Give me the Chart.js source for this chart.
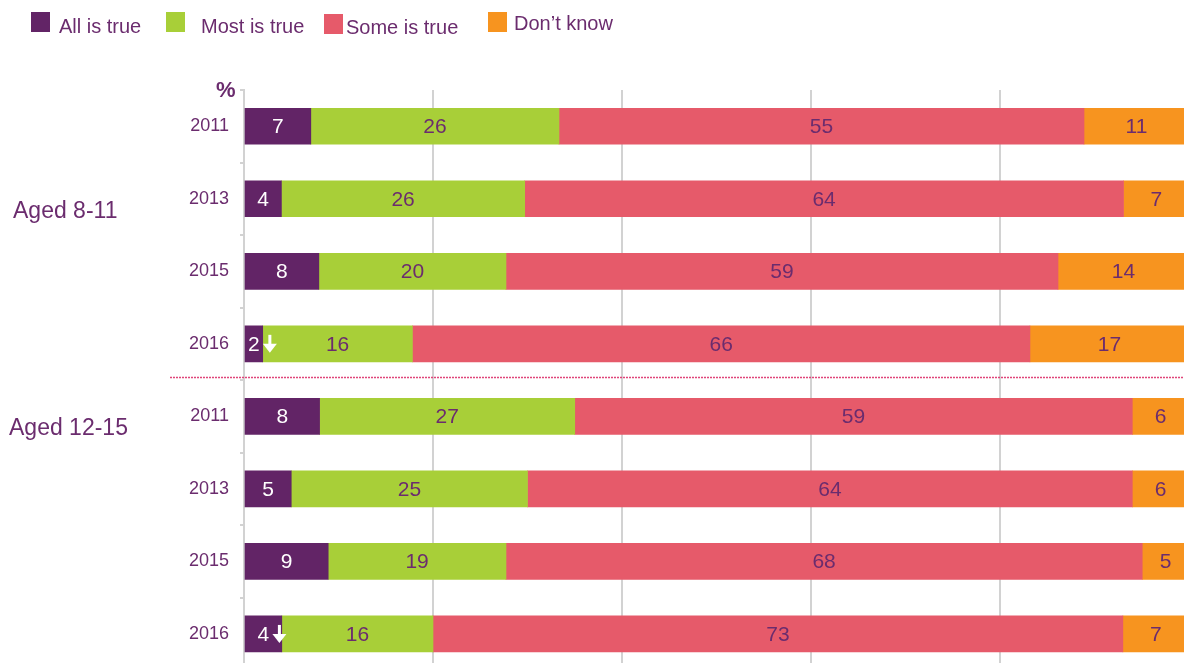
<!DOCTYPE html>
<html>
<head>
<meta charset="utf-8">
<script src="https://cdn.jsdelivr.net/npm/chart.js"></script>
<style>
  html, body { margin: 0; padding: 0; background: #fff; overflow: hidden; }
  #frame { position: relative; width: 1184px; height: 663px; overflow: hidden; font-family: "Liberation Sans", Arial, sans-serif; color: #6b2c6e; }
  #c { position: absolute; left: 0; top: 0; }
  .sw { position: absolute; width: 19px; height: 20px; }
  .lt { position: absolute; font-size: 20px; line-height: 1; white-space: nowrap; }
  .grp { position: absolute; font-size: 23px; line-height: 1; white-space: nowrap; }
  #pct { position: absolute; left: 216px; top: 79px; font-size: 22px; font-weight: bold; line-height: 1; }
</style>
</head>
<body>
<div id="frame">
  <canvas id="c" width="1189" height="692"></canvas>
  <div class="sw" style="left:31px;top:12px;background:#622466"></div>
  <div class="lt" style="left:59px;top:16px">All is true</div>
  <div class="sw" style="left:166px;top:12px;background:#a8cf38"></div>
  <div class="lt" style="left:201px;top:16px">Most is true</div>
  <div class="sw" style="left:324px;top:14px;background:#e65a6a"></div>
  <div class="lt" style="left:346px;top:17px">Some is true</div>
  <div class="sw" style="left:488px;top:12px;background:#f7941f"></div>
  <div class="lt" style="left:514px;top:13px">Don’t know</div>
  <div id="pct">%</div>
  <div class="grp" style="left:13px;top:199px">Aged 8-11</div>
  <div class="grp" style="left:9px;top:416px">Aged 12-15</div>
</div>
<script>
  // rows: years within two age groups
  const years = ['2011', '2013', '2015', '2016', '2011', '2013', '2015', '2016'];
  const allTrue = [7, 4, 8, 2, 8, 5, 9, 4];
  const mostTrue = [26, 26, 20, 16, 27, 25, 19, 16];
  const someTrue = [55, 64, 59, 66, 59, 64, 68, 73];
  const dontKnow = [11, 7, 14, 17, 6, 6, 5, 7];
  const xTicks = [0, 20, 40, 60, 80, 100];
  // rows with a significant-decrease arrow on "All is true"
  const arrowRows = [3, 7];

  const textPurple = '#6b2c6e';
  const series = [
    { label: 'All is true', values: allTrue, color: '#622466', text: '#fff' },
    { label: 'Most is true', values: mostTrue, color: '#a8cf38', text: textPurple },
    { label: 'Some is true', values: someTrue, color: '#e65a6a', text: textPurple },
    { label: 'Don’t know', values: dontKnow, color: '#f7941f', text: textPurple }
  ];

  // bars are drawn as share of the row total (100% stacked)
  const rowTotals = years.map((y, i) => series.reduce((s, d) => s + d.values[i], 0));

  const labelPlugin = {
    id: 'labels',
    afterDatasetsDraw(chart) {
      const ctx = chart.ctx;
      ctx.save();
      ctx.font = '21px "Liberation Sans", Arial, sans-serif';
      ctx.textAlign = 'center';
      ctx.textBaseline = 'middle';
      chart.data.datasets.forEach((ds, di) => {
        const meta = chart.getDatasetMeta(di);
        meta.data.forEach((bar, i) => {
          const cx = (bar.x + bar.base) / 2;
          ctx.fillStyle = series[di].text;
          ctx.fillText(String(series[di].values[i]), cx, bar.y + 1);
          if (di === 0 && arrowRows.includes(i)) {
            const ax = cx + 16, cy = bar.y;
            ctx.fillStyle = '#fff';
            ctx.fillRect(ax - 1.5, cy - 9, 3, 11);
            ctx.beginPath();
            ctx.moveTo(ax - 7, cy);
            ctx.lineTo(ax + 7, cy);
            ctx.lineTo(ax, cy + 9);
            ctx.closePath();
            ctx.fill();
          }
        });
      });
      // dotted separator between the two age groups
      const ys = chart.scales.y;
      const sepY = Math.round((ys.getPixelForValue(3) + ys.getPixelForValue(4)) / 2) - 2.5;
      ctx.strokeStyle = '#e0457a';
      ctx.lineWidth = 1.5;
      ctx.setLineDash([2, 1]);
      ctx.beginPath();
      ctx.moveTo(170, sepY);
      ctx.lineTo(chart.width, sepY);
      ctx.stroke();
      ctx.restore();
    }
  };

  new Chart(document.getElementById('c'), {
    type: 'bar',
    data: {
      labels: years,
      datasets: series.map(s => ({
        label: s.label,
        data: s.values.map((v, i) => v * 100 / rowTotals[i]),
        backgroundColor: s.color,
        barThickness: 36,
        borderWidth: 0
      }))
    },
    options: {
      indexAxis: 'y',
      responsive: false,
      devicePixelRatio: 1,
      animation: false,
      layout: { padding: { top: 90, left: 0, right: 0, bottom: 0 } },
      plugins: { legend: { display: false }, tooltip: { enabled: false } },
      scales: {
        x: {
          stacked: true,
          min: 0,
          max: 100,
          afterBuildTicks: s => { s.ticks = xTicks.map(v => ({ value: v })); },
          afterFit: s => { s.height = 0; },
          ticks: { display: false },
          grid: { color: '#d2d2d2', lineWidth: 2, drawTicks: false },
          border: { display: false }
        },
        y: {
          stacked: true,
          afterFit: s => { s.width = 244; },
          ticks: {
            color: textPurple,
            padding: 11,
            font: { family: '"Liberation Sans", Arial, sans-serif', size: 18 }
          },
          grid: { drawOnChartArea: false, drawTicks: true, tickLength: 4, color: '#d2d2d2', lineWidth: 2 },
          border: { display: true, color: '#d2d2d2', width: 2 }
        }
      }
    },
    plugins: [labelPlugin]
  });
</script>
</body>
</html>
